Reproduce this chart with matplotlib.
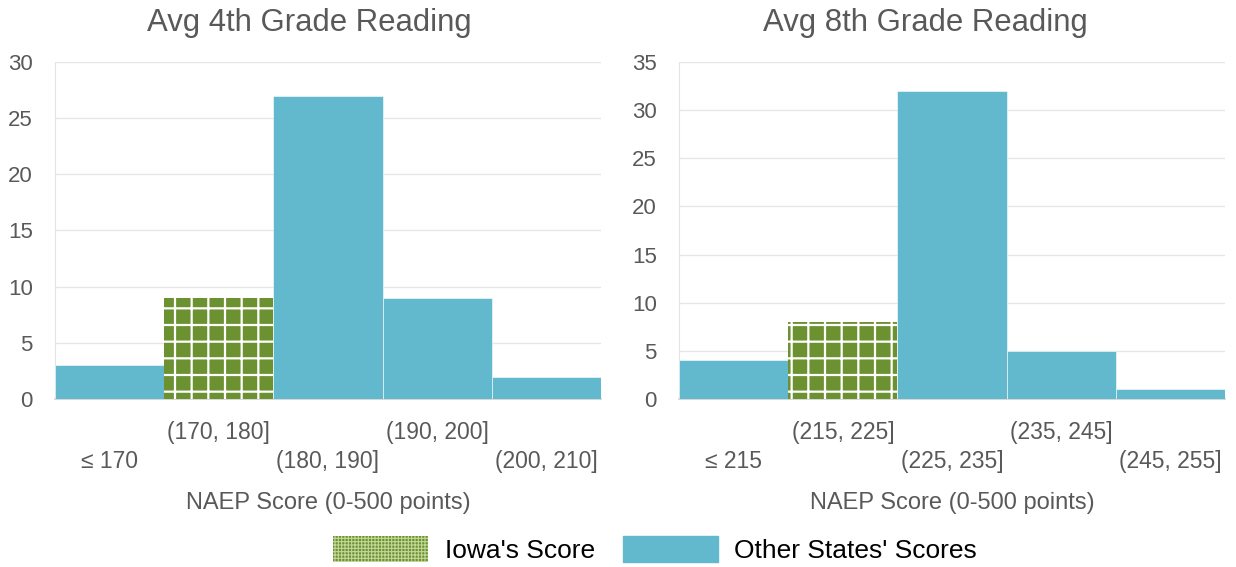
import matplotlib
matplotlib.use("Agg")
import matplotlib.pyplot as plt
from matplotlib.patches import Patch

plt.rcParams['font.family'] = ['Liberation Sans', 'DejaVu Sans']
plt.rcParams['hatch.linewidth'] = 1.6

cats4 = ["≤ 170", "(170, 180]", "(180, 190]", "(190, 200]", "(200, 210]"]
vals4 = [3, 9, 27, 9, 2]
cats8 = ["≤ 215", "(215, 225]", "(225, 235]", "(235, 245]", "(245, 255]"]
vals8 = [4, 8, 32, 5, 1]
iowa_idx4 = 1
iowa_idx8 = 1
titles = ["Avg 4th Grade Reading", "Avg 8th Grade Reading"]
ymax = [30, 35]
xlabel = "NAEP Score (0-500 points)"
legend_labels = ["Iowa's Score", "Other States' Scores"]

BLUE = '#62B8CC'
GREEN = '#6B9130'
TXT = '#595959'

fig = plt.figure(figsize=(12.36, 5.67), dpi=100)
ax1 = fig.add_axes([0.0445, 0.2963, 0.4417, 0.5944])
ax2 = fig.add_axes([0.5494, 0.2963, 0.4417, 0.5944])

for ax, cats, vals, iw, title, ym, tx in [(ax1, cats4, vals4, iowa_idx4, titles[0], ymax[0], 0.465),
                                          (ax2, cats8, vals8, iowa_idx8, titles[1], ymax[1], 0.452)]:
    x = list(range(len(cats)))
    for i, v in zip(x, vals):
        if i == iw:
            ax.bar(i, v, width=1.0, color=GREEN, edgecolor='white', linewidth=0,
                   hatch='+', zorder=3)
        else:
            ax.bar(i, v, width=1.0, color=BLUE, edgecolor='white', linewidth=0.4, zorder=3)
    ax.set_xlim(-0.5, len(cats) - 0.5)
    ax.set_ylim(0, ym)
    ax.set_yticks(range(0, ym + 1, 5))
    ax.grid(axis='y', color='#e6e6e6', linewidth=1, zorder=0)
    ax.set_axisbelow(True)
    for s in ['top', 'right']:
        ax.spines[s].set_visible(False)
    ax.spines['left'].set_color('#e3e3e3')
    ax.spines['bottom'].set_color('#cfcfcf')
    ax.spines['bottom'].set_linewidth(1.2)
    ax.tick_params(axis='y', length=0, labelsize=16, labelcolor=TXT, pad=16)
    # staggered x labels
    ax.set_xticks([i for i in x if i % 2 == 0])
    ax.set_xticklabels([c for i, c in enumerate(cats) if i % 2 == 0])
    ax.set_xticks([i for i in x if i % 2 == 1], minor=True)
    ax.set_xticklabels([c for i, c in enumerate(cats) if i % 2 == 1], minor=True)
    ax.tick_params(axis='x', which='major', length=0, labelsize=16.5, labelcolor=TXT, pad=36.5)
    ax.tick_params(axis='x', which='minor', length=0, labelsize=16.5, labelcolor=TXT, pad=15.5)
    ax.set_title(title, fontsize=22.4, color=TXT, pad=22, x=tx)
    ax.set_xlabel(xlabel, fontsize=17, color=TXT)
    ax.xaxis.set_label_coords(0.5, -0.31)
    ax.xaxis.label.set_va('center')

handles = [Patch(facecolor=GREEN, edgecolor='#c2d79a', linewidth=0, hatch='+++++'),
           Patch(facecolor=BLUE, edgecolor=BLUE)]
leg = fig.legend(handles, legend_labels, loc='center', bbox_to_anchor=(0.530, 0.031),
                 ncol=2, frameon=False, fontsize=19, handlelength=3.6, handleheight=1.15,
                 handletextpad=0.62, columnspacing=1.05)
for p in leg.get_patches():
    if p.get_hatch() and hasattr(p, 'set_hatch_linewidth'):
        p.set_hatch_linewidth(0.8)

fig.savefig('out.png', dpi=100)
